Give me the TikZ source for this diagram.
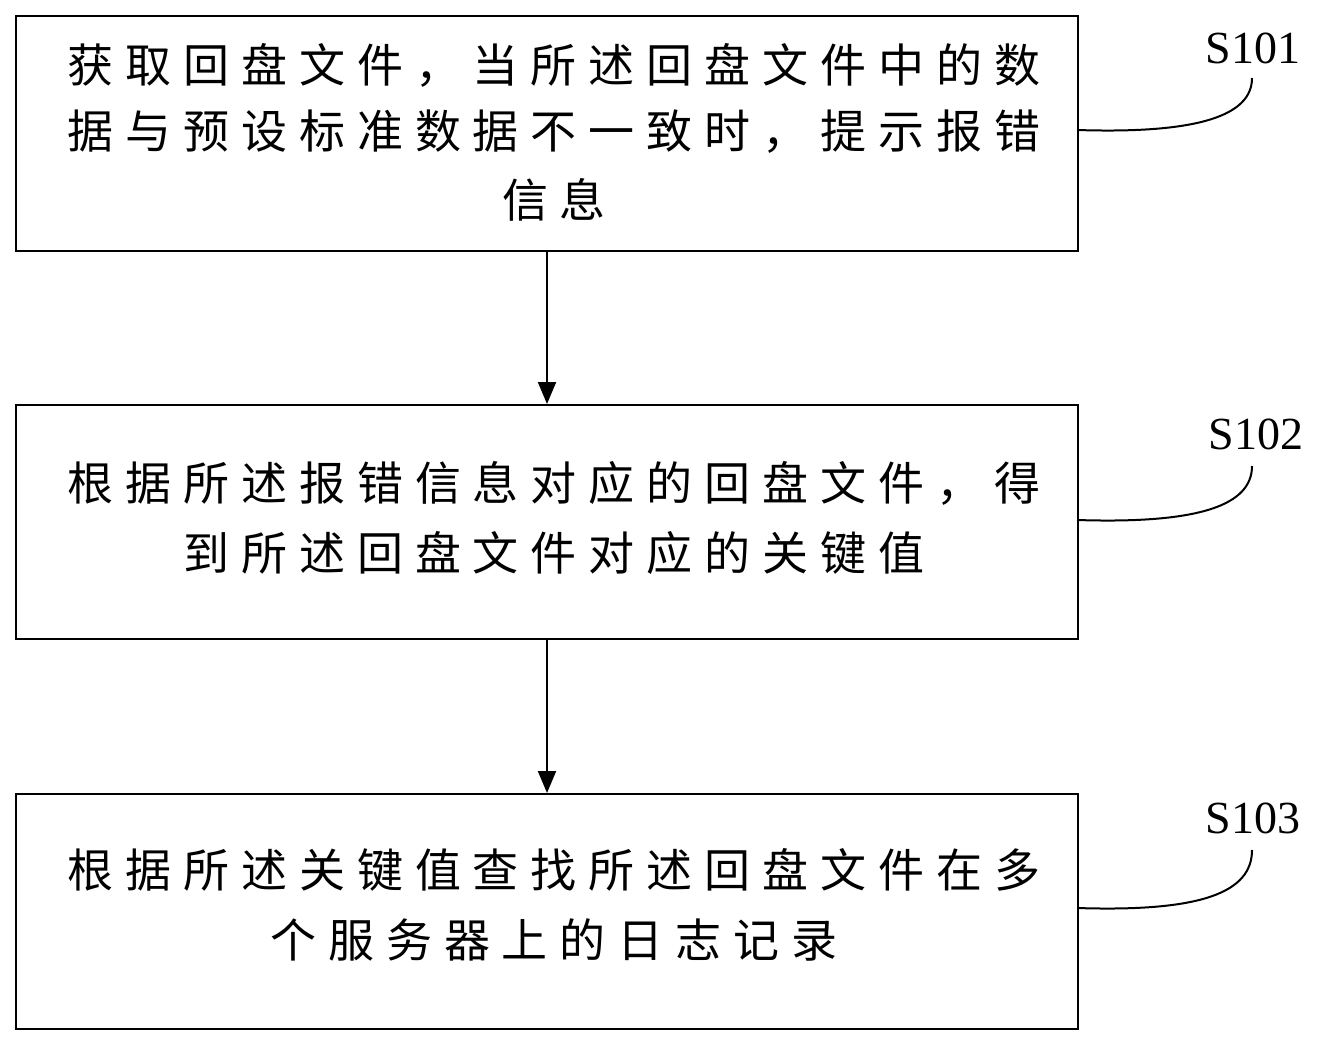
\documentclass[tikz,border=0pt]{standalone}
\usepackage{fontspec}
\setmainfont{Liberation Serif}
\newfontfamily\cjk{Noto Sans CJK SC}[LetterSpace=26]
\usetikzlibrary{arrows.meta}
\begin{document}
\begin{tikzpicture}[x=1pt,y=-1pt,
  box/.style={draw,line width=2pt,minimum width=1062pt,anchor=north west,inner sep=0pt},
  txt/.style={font=\cjk\fontsize{46}{46}\selectfont,inner sep=0pt},
  lab/.style={font=\fontsize{46}{46}\selectfont},
  arr/.style={line width=2pt,-{Triangle[length=22pt,width=18pt]}},
  crv/.style={line width=2pt}]
\useasboundingbox (0,0) rectangle (1329,1044);
\node[box,minimum height=235pt] (b1) at (15,15) {};
\node[box,minimum height=234pt] (b2) at (15,404) {};
\node[box,minimum height=235pt] (b3) at (15,793) {};
\node[txt] (t11) at (554,65) {获取回盘文件，当所述回盘文件中的数};
\node[txt] (t12) at (554,132) {据与预设标准数据不一致时，提示报错};
\node[txt] (t13) at (554,200) {信息};
\node[txt] (t21) at (554,483) {根据所述报错信息对应的回盘文件，得};
\node[txt] (t22) at (554,553) {到所述回盘文件对应的关键值};
\node[txt] (t31) at (554,870) {根据所述关键值查找所述回盘文件在多};
\node[txt] (t32) at (554,940) {个服务器上的日志记录};
\draw[arr] (b1.south) -- (b2.north);
\draw[arr] (b2.south) -- (b3.north);
\node[lab] (s1) at (1253,48) {S101};
\node[lab] (s2) at (1256,434) {S102};
\node[lab] (s3) at (1253,818) {S103};
\coordinate (e1) at (1077,130);
\coordinate (e2) at (1077,520);
\coordinate (e3) at (1077,908);
\draw[crv] (e1) .. controls (1200,134) and (1252,115) .. (1252,78);
\draw[crv] (e2) .. controls (1200,524) and (1252,505) .. (1252,466);
\draw[crv] (e3) .. controls (1200,912) and (1252,893) .. (1252,850);
\end{tikzpicture}
\end{document}
